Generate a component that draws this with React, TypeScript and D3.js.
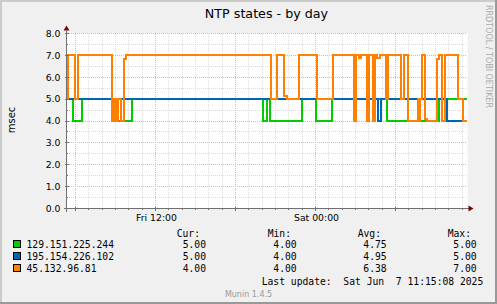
import React from "react";
import * as d3 from "d3";

const W = 497;
const H = 304;

const seriesNames = ["129.151.225.244", "195.154.226.102", "45.132.96.81"];
const seriesColors = ["#00CC00", "#0066B3", "#FF8000"];

const greenSteps: [string, number][] = [
  ["2025-06-06 05:20", 5], ["2025-06-06 05:47", 4], ["2025-06-06 06:28", 5],
  ["2025-06-06 08:53", 4], ["2025-06-06 10:14", 5], ["2025-06-06 20:02", 4],
  ["2025-06-06 20:23", 5], ["2025-06-06 20:34", 4], ["2025-06-06 22:57", 5],
  ["2025-06-07 00:00", 4], ["2025-06-07 01:14", 5], ["2025-06-07 05:22", 4],
  ["2025-06-07 09:16", 5],
];
const blueSteps: [string, number][] = [
  ["2025-06-06 05:20", 5], ["2025-06-07 04:42", 4], ["2025-06-07 04:56", 5],
  ["2025-06-07 09:50", 4],
];
const orangeSteps: [string, number][] = [
  ["2025-06-06 05:20", 5], ["2025-06-06 05:25", 7], ["2025-06-06 05:59", 5],
  ["2025-06-06 06:10", 7], ["2025-06-06 08:42", 4], ["2025-06-06 08:55", 5],
  ["2025-06-06 09:04", 4], ["2025-06-06 09:09", 5], ["2025-06-06 09:23", 4],
  ["2025-06-06 09:39", 6.85], ["2025-06-06 09:47", 7], ["2025-06-06 20:39", 5],
  ["2025-06-06 21:07", 7], ["2025-06-06 21:39", 5.15], ["2025-06-06 21:51", 5],
  ["2025-06-06 22:45", 7], ["2025-06-07 00:05", 5], ["2025-06-07 01:17", 7],
  ["2025-06-07 02:54", 4], ["2025-06-07 03:04", 7], ["2025-06-07 03:17", 6.88],
  ["2025-06-07 03:26", 7], ["2025-06-07 03:50", 4], ["2025-06-07 04:01", 7],
  ["2025-06-07 04:20", 4], ["2025-06-07 04:29", 7], ["2025-06-07 04:38", 6.88],
  ["2025-06-07 04:50", 7], ["2025-06-07 05:16", 5], ["2025-06-07 05:25", 7],
  ["2025-06-07 06:26", 5], ["2025-06-07 06:38", 7], ["2025-06-07 06:57", 4],
  ["2025-06-07 07:42", 5], ["2025-06-07 07:47", 4], ["2025-06-07 07:52", 5],
  ["2025-06-07 08:01", 7], ["2025-06-07 08:13", 4.1], ["2025-06-07 08:21", 4],
  ["2025-06-07 09:06", 6.85], ["2025-06-07 09:14", 7], ["2025-06-07 09:27", 4],
  ["2025-06-07 09:44", 7], ["2025-06-07 10:42", 5], ["2025-06-07 11:02", 4],
];

const curValues = ["5.00", "5.00", "4.00"];
const minValues = ["4.00", "4.00", "4.00"];
const avgValues = ["4.75", "4.95", "6.38"];
const maxValues = ["5.00", "5.00", "7.00"];
const statHeaders = ["Cur:", "Min:", "Avg:", "Max:"];

const yTickValues = [0, 1, 2, 3, 4, 5, 6, 7, 8];
const yMinorValues = [0.5, 1.5, 2.5, 3.5, 4.5, 5.5, 6.5, 7.5];

const titleText = "NTP states - by day";
const yLabel = "msec";
const lastUpdate = "Last update:  Sat Jun  7 11:15:08 2025";
const watermark = "RRDTOOL / TOBI OETIKER";
const footer = "Munin 1.4.5";

const parse = d3.timeParse("%Y-%m-%d %H:%M");
const startTime = new Date(2025, 5, 6, 5, 19, 30);
const endTime = new Date(2025, 5, 7, 11, 19, 30);

const PL = 66.5, PR = 466.5, PT = 33.5, PB = 208.5;

const x = d3.scaleTime().domain([startTime, endTime]).range([PL, PR]);
const y = d3.scaleLinear().domain([0, 8]).range([PB, PT]);

const snap = (v: number) => Math.round(v - 0.5) + 0.5;

type Pt = { t: Date; v: number };
function toPts(steps: [string, number][]): Pt[] {
  const pts = steps.map(([s, v]) => ({ t: parse(s) as Date, v }));
  pts.push({ t: endTime, v: pts[pts.length - 1].v });
  return pts;
}

const line = d3
  .line<Pt>()
  .x((d) => Math.round(Math.max(PL + 0.5, x(d.t))))
  .y((d) => Math.round(y(d.v)))
  .curve(d3.curveStepAfter);

const sans = "'DejaVu Sans', sans-serif";
const mono = "'DejaVu Sans Mono', monospace";

export default function App() {
  const hours = d3.timeHour.range(startTime, endTime);
  const majorHours = hours.filter((h) => h.getHours() % 6 === 0);
  const minorHours = hours.filter((h) => h.getHours() % 6 !== 0);
  const labelHours = hours.filter((h) => h.getHours() % 12 === 0);
  const fmt = d3.timeFormat("%a %H:%M");
  const series = [greenSteps, blueSteps, orangeSteps];
  const statCols = [curValues, minValues, avgValues, maxValues];
  const colEnds = [206, 296.7, 386.7, 476.7];
  const headStarts = [176.7, 267.7, 357.7, 447.7];
  const rowBase = [248, 260.2, 272.4];

  return (
    <svg
      width={W}
      height={H}
      style={{ position: "fixed", left: 0, top: 0, display: "block" }}
    >
      <rect x={0} y={0} width={W} height={H} fill="#F0F0F0" />
      <rect x={0} y={0} width={W} height={2} fill="#CBCBCB" />
      <rect x={0} y={0} width={2} height={H} fill="#CBCBCB" />
      <rect x={0} y={H - 2} width={W} height={2} fill="#999999" />
      <rect x={W - 2} y={0} width={2} height={H} fill="#999999" />

      <rect x={PL} y={PT - 0.5} width={PR - PL + 1} height={PB - PT + 0.5} fill="#FFFFFF" />

      {/* minor grid */}
      <g stroke="#DDDDDD" strokeWidth={1} strokeDasharray="1,1" shapeRendering="crispEdges">
        {minorHours.map((h, i) => (
          <line key={"mv" + i} x1={snap(x(h))} x2={snap(x(h))} y1={PT} y2={PB} />
        ))}
        {yMinorValues.map((v, i) => (
          <line key={"mh" + i} x1={PL} x2={PR} y1={snap(y(v))} y2={snap(y(v))} />
        ))}
      </g>
      {/* major grid */}
      <g stroke="#E0B4B4" strokeWidth={1} strokeDasharray="1,1" shapeRendering="crispEdges">
        {majorHours.map((h, i) => (
          <line key={"Mv" + i} x1={snap(x(h))} x2={snap(x(h))} y1={PT} y2={PB} />
        ))}
        {yTickValues.map((v, i) => (
          <line key={"Mh" + i} x1={PL} x2={PR} y1={snap(y(v))} y2={snap(y(v))} />
        ))}
      </g>

      {/* series */}
      <g fill="none" strokeWidth={2} strokeLinejoin="miter" strokeLinecap="butt">
        {series.map((s, i) => (
          <path key={i} d={line(toPts(s)) || ""} stroke={seriesColors[i]} />
        ))}
      </g>

      {/* axes */}
      <g stroke="#707070" strokeWidth={1} shapeRendering="crispEdges">
        <line x1={PL - 3} x2={PR + 3} y1={PB} y2={PB} />
        <line x1={PL} x2={PL} y1={PB + 3} y2={PT - 3} />
        {yTickValues.map((v, i) => (
          <line key={"yt" + i} x1={PL - 2} x2={PL + 2} y1={snap(y(v))} y2={snap(y(v))} />
        ))}
        {yMinorValues.map((v, i) => (
          <line key={"ym" + i} x1={PL - 1} x2={PL + 1} y1={snap(y(v))} y2={snap(y(v))} />
        ))}
        {hours.map((h, i) => (
          <line
            key={"xt" + i}
            x1={snap(x(h))}
            x2={snap(x(h))}
            y1={PB - (h.getHours() % 6 === 0 ? 2 : 1)}
            y2={PB + (h.getHours() % 6 === 0 ? 2 : 1)}
          />
        ))}
      </g>
      <polygon points={`${PR + 2},${PB - 3} ${PR + 7},${PB} ${PR + 2},${PB + 3}`} fill="#800000" />
      <polygon points={`${PL - 3},${PT - 3} ${PL},${PT - 8} ${PL + 3},${PT - 3}`} fill="#800000" />

      {/* y labels */}
      <g fontFamily={sans} fontSize={9.3} fill="#000" textAnchor="end">
        {yTickValues.map((v, i) => (
          <text key={"yl" + i} x={60.5} y={y(v) + 3.3}>
            {d3.format(".1f")(v)}
          </text>
        ))}
      </g>
      <g fontFamily={sans} fontSize={9.3} fill="#000" textAnchor="middle">
        {labelHours.map((h, i) => (
          <text key={"xl" + i} x={x(h) + 1} y={221}>
            {fmt(h)}
          </text>
        ))}
      </g>

      <text x={266.5} y={18} fontFamily={sans} fontSize={12.7} textAnchor="middle" fill="#000">
        {titleText}
      </text>
      <text
        transform="translate(15,120) rotate(-90)"
        fontFamily={sans}
        fontSize={10}
        textAnchor="middle"
        fill="#000"
      >
        {yLabel}
      </text>
      <text
        transform="translate(485.5,5) rotate(90)"
        fontFamily={sans}
        fontSize={8}
        fill="#AAAAAA"
      >
        {watermark}
      </text>

      {/* legend */}
      <g fontFamily={mono} fontSize={9.7} fill="#000">
        {statHeaders.map((h, i) => (
          <text key={"h" + i} x={headStarts[i]} y={237}>
            {h}
          </text>
        ))}
        {seriesNames.map((n, r) => (
          <g key={"r" + r}>
            <rect
              x={13.5}
              y={rowBase[r] - 7.5}
              width={7}
              height={7}
              fill={seriesColors[r]}
              stroke="#000"
              strokeWidth={1}
              shapeRendering="crispEdges"
            />
            <text x={26.5} y={rowBase[r]}>
              {n}
            </text>
            {statCols.map((col, c) => (
              <text key={c} x={colEnds[c]} y={rowBase[r]} textAnchor="end">
                {col[r]}
              </text>
            ))}
          </g>
        ))}
        <text x={483.3} y={284.5} textAnchor="end" style={{ whiteSpace: "pre" }}>
          {lastUpdate}
        </text>
      </g>
      <text x={248.5} y={296.5} fontFamily={sans} fontSize={8} textAnchor="middle" fill="#999999">
        {footer}
      </text>
    </svg>
  );
}
